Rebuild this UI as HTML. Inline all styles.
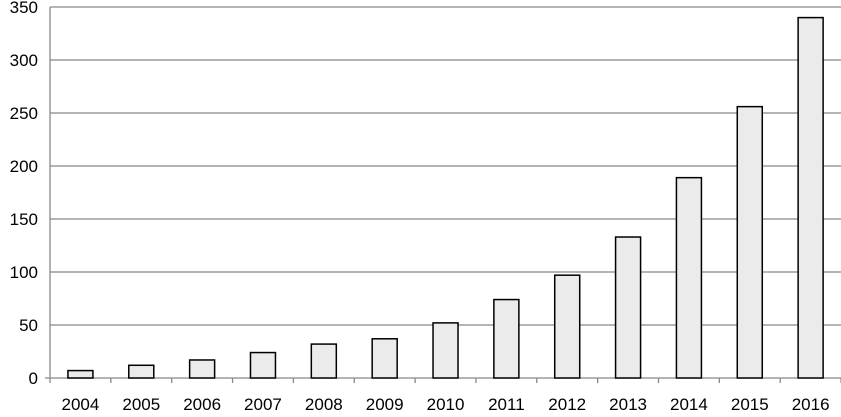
<!DOCTYPE html>
<html><head><style>body{margin:0;background:#fff}</style></head><body>
<svg width="841" height="412" xmlns="http://www.w3.org/2000/svg" font-family="Liberation Sans, sans-serif" font-size="17" fill="#000">
<g stroke="#888" stroke-width="1.3">
<line x1="50" x2="841" y1="7" y2="7"/><line x1="50" x2="841" y1="60" y2="60"/><line x1="50" x2="841" y1="113" y2="113"/><line x1="50" x2="841" y1="166" y2="166"/><line x1="50" x2="841" y1="219" y2="219"/><line x1="50" x2="841" y1="272" y2="272"/><line x1="50" x2="841" y1="325" y2="325"/>
<line x1="50" x2="50" y1="7" y2="383"/><line x1="45" x2="841" y1="378" y2="378"/>
</g>
<g text-anchor="end">
<text x="38" y="13">350</text><text x="38" y="66">300</text><text x="38" y="119">250</text><text x="38" y="172">200</text><text x="38" y="225">150</text><text x="38" y="278">100</text><text x="38" y="331">50</text><text x="38" y="384">0</text>
</g>
<g id="bars" fill="#ebebeb" stroke="#000" stroke-width="1.5"></g>
<g id="ticks" stroke="#888" stroke-width="1.3"></g>
<g id="labels" text-anchor="middle"></g>
<script>
var v=[7,12,17,24,32,37,52,74,97,133,189,256,340],w=60.85,s=371/350,ns="http://www.w3.org/2000/svg";
for(var i=0;i<13;i++){var c=50+w*(i+.5);
var r=document.createElementNS(ns,"rect");r.setAttribute("x",c-12.5);r.setAttribute("width",25);r.setAttribute("y",378-v[i]*s);r.setAttribute("height",v[i]*s);document.getElementById("bars").appendChild(r);
var l=document.createElementNS(ns,"line");var tx=50+w*(i+1);l.setAttribute("x1",tx);l.setAttribute("x2",tx);l.setAttribute("y1",378);l.setAttribute("y2",383);document.getElementById("ticks").appendChild(l);
var t=document.createElementNS(ns,"text");t.setAttribute("x",c);t.setAttribute("y",410);t.textContent=2004+i;document.getElementById("labels").appendChild(t);}
</script>
</svg>
</body></html>
